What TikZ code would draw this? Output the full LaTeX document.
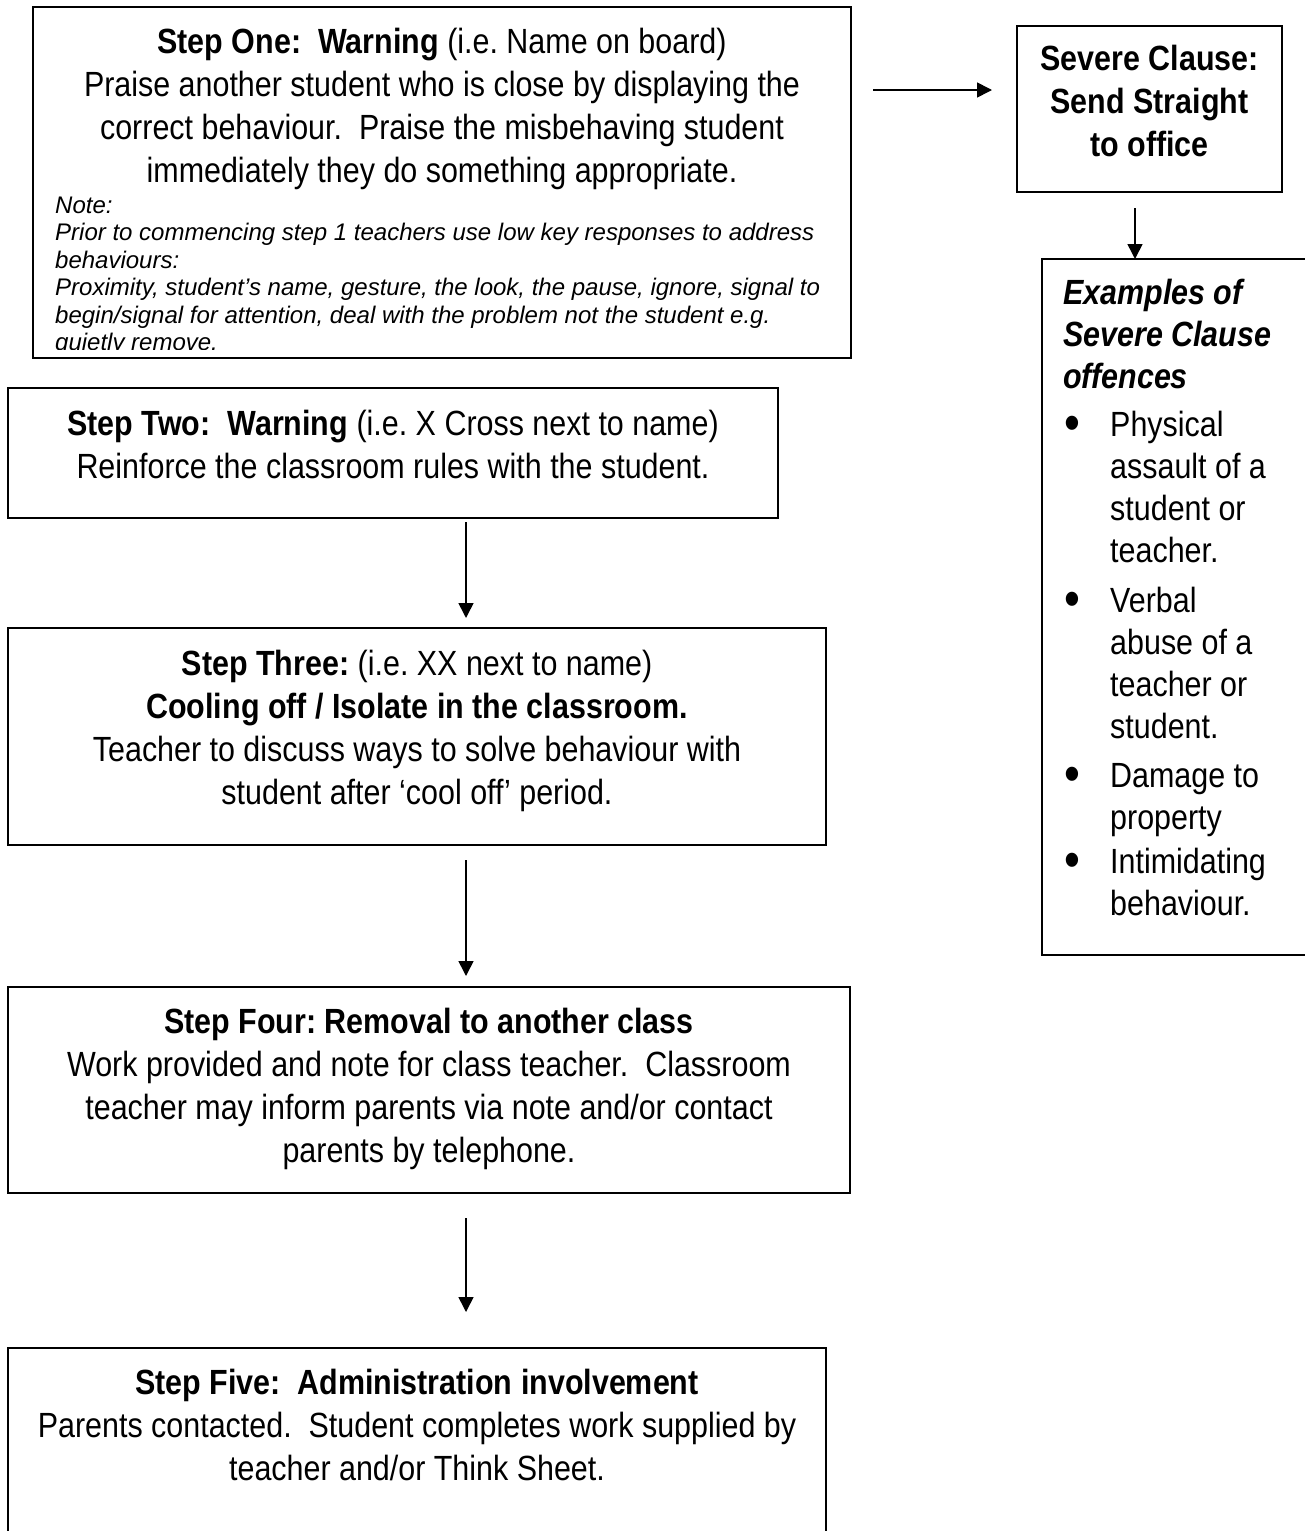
\documentclass[tikz,border=0pt]{standalone}
\usepackage{fontspec}
\setmainfont{Liberation Sans}
\newfontfamily\bigf[FakeStretch=0.87]{Liberation Sans}
\usetikzlibrary{arrows.meta,calc}
\frenchspacing
\newcommand\fs{\rule{0pt}{30pt}}
\newcommand\fn{\rule{0pt}{20pt}}
\newcommand\bi[1]{{\bfseries\itshape #1}}
\newcommand\bul{\makebox[47pt][l]{\hspace{1pt}\raisebox{-4pt}{\fontsize{52}{42}\selectfont •}}}
\newcommand\ind{\hspace*{47pt}}
\begin{document}
\begin{tikzpicture}[x=1pt,y=-1pt,
  box/.style={draw=black,line width=1.6pt,inner sep=0pt,outer sep=0pt,anchor=north west},
  txt/.style={inner sep=0pt,anchor=north,align=center,font=\bigf\fontsize{35}{43}\selectfont},
  txl/.style={inner sep=0pt,anchor=north west,align=left,font=\bigf\fontsize{35}{42}\selectfont},
  note/.style={inner sep=0pt,anchor=north west,align=left,font=\fontsize{24}{27.5}\selectfont\itshape},
  arr/.style={line width=1.6pt,-{Triangle[length=15pt,width=15pt]}}]
\useasboundingbox (0,0) rectangle (1304,1531);

% boxes
\node[box,minimum width=818pt,minimum height=351pt] (s1) at (33,7) {};
\node[box,minimum width=265pt,minimum height=166pt] (sev) at (1017,26) {};
\node[box,minimum width=290pt,minimum height=696pt] (ex) at (1042,259) {};
\node[box,minimum width=770pt,minimum height=130pt] (s2) at (8,388) {};
\node[box,minimum width=818pt,minimum height=217pt] (s3) at (8,628) {};
\node[box,minimum width=842pt,minimum height=206pt] (s4) at (8,987) {};
\node[box,minimum width=818pt,minimum height=250pt] (s5) at (8,1348) {};

% texts
\node[txt] (t1) at (442,23) {\fs\textbf{Step One:~~Warning} (i.e. Name on board)\\
Praise another student who is close by displaying the\\
correct behaviour.~~Praise the misbehaving student\\
immediately they do something appropriate.};
\begin{scope}
\clip (33,7) rectangle (851,349);
\node[note] (n1) at (55,193) {\fn Note:\\
Prior to commencing step 1 teachers use low key responses to address\\
behaviours:\\
Proximity, student’s name, gesture, the look, the pause, ignore, signal to\\
begin/signal for attention, deal with the problem not the student e.g.\\
quietly remove.};
\end{scope}

\node[txt,font=\bigf\bfseries\fontsize{35}{43}\selectfont] (tsev) at (1149.5,40) {\fs Severe Clause:\\Send Straight\\to office};

\node[txl] (tex) at (1063,274) {\fs\bi{Examples of}\\
\bi{Severe Clause}\\
\bi{offences}\\[6pt]
\bul Physical\\
\ind assault of a\\
\ind student or\\
\ind teacher.\\[8pt]
\bul Verbal\\
\ind abuse of a\\
\ind teacher or\\
\ind student.\\[7pt]
\bul Damage to\\
\ind property\\[2pt]
\bul Intimidating\\
\ind behaviour.};

\node[txt] (t2) at (393,405) {\fs\textbf{Step Two:~~Warning} (i.e. X Cross next to name)\\
Reinforce the classroom rules with the student.};

\node[txt] (t3) at (417,645) {\fs\textbf{Step Three:} (i.e. XX next to name)\\
\textbf{Cooling off / Isolate in the classroom.}\\
Teacher to discuss ways to solve behaviour with\\
student after ‘cool off’ period.};

\node[txt] (t4) at (429,1003) {\fs\textbf{Step Four: Removal to another class}\\
Work provided and note for class teacher.~~Classroom\\
teacher may inform parents via note and/or contact\\
parents by telephone.};

\node[txt] (t5) at (417,1364) {\fs\textbf{Step Five:~~Administration involvement}\\
Parents contacted.~~Student completes work supplied by\\
teacher and/or Think Sheet.};

% connectors
\draw[arr] ($(s1.north east)+(22,83)$) -- ($(sev.north west)+(-25,64)$);
\draw[arr] ($(sev.south west)+(118,16)$) -- ($(ex.north west)+(93,0)$);
\draw[arr] ($(s2.south west)+(458,4)$) -- ($(s3.north west)+(458,-10)$);
\draw[arr] ($(s3.south west)+(458,15)$) -- ($(s4.north west)+(458,-11)$);
\draw[arr] ($(s4.south west)+(458,25)$) -- ($(s5.north west)+(458,-36)$);
\end{tikzpicture}
\end{document}
